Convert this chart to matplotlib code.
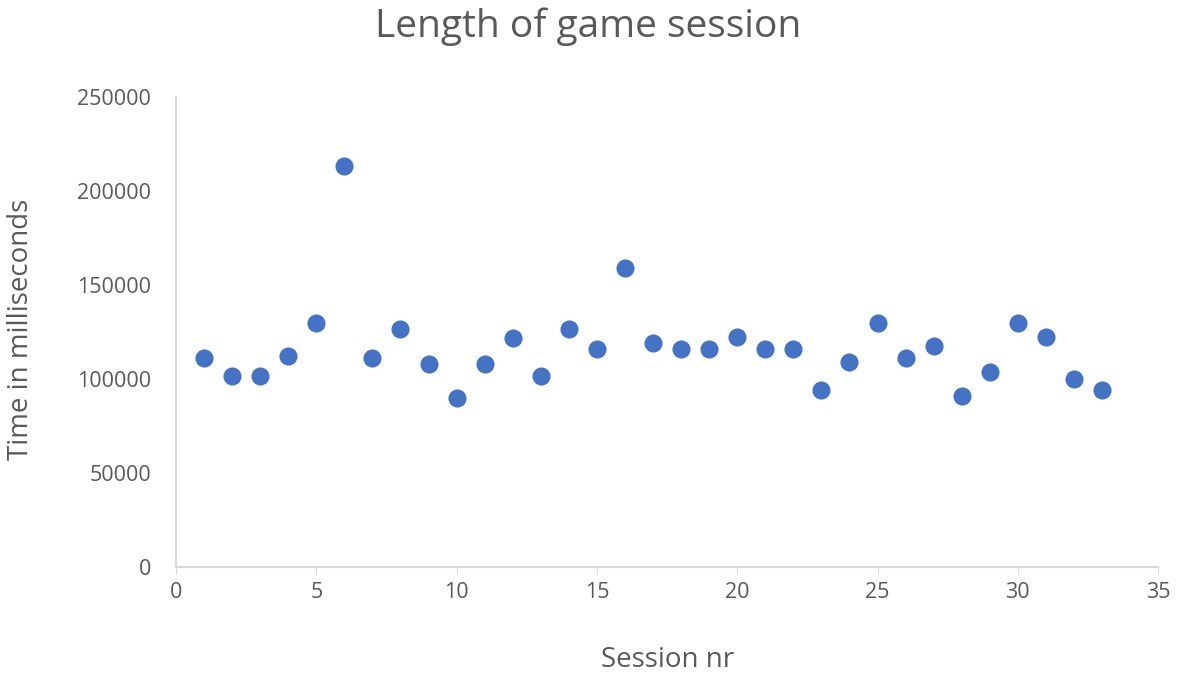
import matplotlib
matplotlib.use("Agg")
import matplotlib.pyplot as plt

plt.rcParams['font.family'] = ['Open Sans', 'DejaVu Sans']

# session numbers and their lengths (ms)
sessions = list(range(1, 34))
times = [111300, 101600, 101600, 112400, 129600, 213300, 111300, 126400, 108100, 89700,
         108100, 122000, 101600, 126400, 115800, 158900, 119000, 115800, 115800, 122200,
         115800, 115800, 94100, 109200, 129600, 111300, 117700, 91000, 103700, 129600,
         122200, 99800, 94100]

x_ticks = [0, 5, 10, 15, 20, 25, 30, 35]
y_ticks = [0, 50000, 100000, 150000, 200000, 250000]

text_col = '#595959'
axis_col = '#d9d9d9'

fig = plt.figure(figsize=(11.77, 6.75), dpi=100)
ax = fig.add_axes([0.1495, 0.16, 0.8345, 0.696])

ax.scatter(sessions, times, s=170, color='#4472C4', zorder=3, linewidths=0)

ax.set_xlim(0, 35)
ax.set_ylim(0, 250000)
ax.set_xticks(x_ticks)
ax.set_yticks(y_ticks)
ax.set_yticklabels([str(v) for v in y_ticks])

for side in ['top', 'right']:
    ax.spines[side].set_visible(False)
for side in ['left', 'bottom']:
    ax.spines[side].set_color(axis_col)
    ax.spines[side].set_linewidth(1.5)

ax.tick_params(axis='both', colors=text_col, labelsize=15.5)
ax.tick_params(axis='y', length=0, pad=18)
ax.tick_params(axis='x', length=5, color=axis_col, direction='out', pad=6)

ax.set_xlabel('Session nr', fontsize=20, color=text_col, va='center')
ax.xaxis.set_label_coords(0.5, -0.198)
ax.set_ylabel('Time in milliseconds', fontsize=20, color=text_col, va='center')
ax.yaxis.set_label_coords(-0.158, 0.506)
fig.text(0.5, 0.96, 'Length of game session', fontsize=28, color=text_col,
         ha='center', va='center')

fig.savefig('out.png', dpi=100)
